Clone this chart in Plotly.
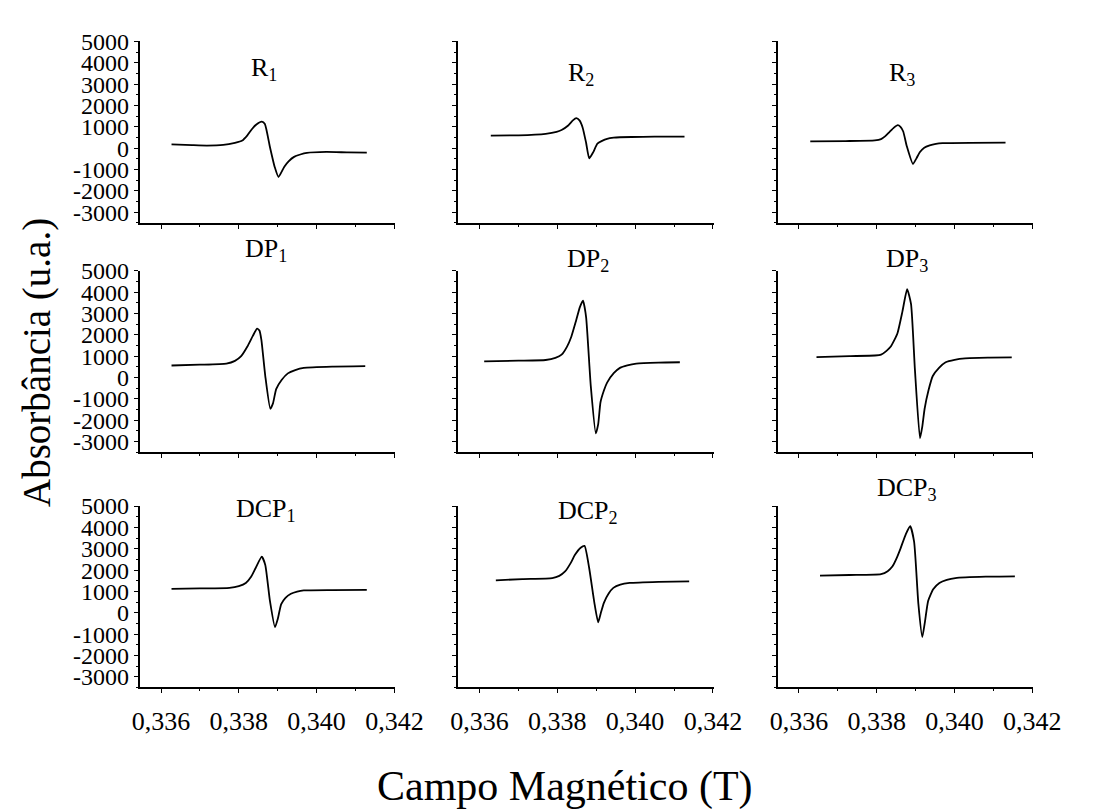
import plotly.graph_objects as go

FONT = "Times New Roman, Liberation Serif, Tinos, serif"

# ---- data (field in T, absorbance in a.u.) ----
field_R1 = [0.33627, 0.33680, 0.33718, 0.33760, 0.33790, 0.33809, 0.33822, 0.33834, 0.33846,
            0.33859, 0.33867, 0.33880, 0.33892, 0.33902, 0.33917, 0.33928, 0.33942, 0.33958,
            0.33975, 0.34025, 0.34080, 0.34129]
abs_R1 = [175, 140, 120, 150, 250, 358, 600, 896, 1120,
          1245, 1126, 50, -870, -1356, -870, -620, -410, -300,
          -225, -180, -200, -210]

field_R2 = [0.33629, 0.33700, 0.33770, 0.33798, 0.33811, 0.33828, 0.33840, 0.33849,
            0.33857, 0.33865, 0.33874, 0.33882, 0.33892, 0.33903, 0.33915, 0.33928,
            0.33945, 0.33961, 0.34020, 0.34080, 0.34127]
abs_R2 = [588, 600, 670, 760, 850, 1060, 1300, 1402,
          1300, 970, 250, -483, -200, 207, 340, 437,
          490, 510, 530, 540, 542]

field_R3 = [0.33629, 0.33720, 0.33795, 0.33811, 0.33822, 0.33832, 0.33844, 0.33854,
            0.33861, 0.33868, 0.33877, 0.33893, 0.33902, 0.33911, 0.33922, 0.33936,
            0.33952, 0.33969, 0.34040, 0.34131]
abs_R3 = [312, 330, 360, 420, 560, 740, 960, 1080,
          1000, 780, 100, -744, -480, -179, 20, 129,
          200, 234, 250, 253]

field_DP1 = [0.33627, 0.33700, 0.33768, 0.33790, 0.33806, 0.33822, 0.33836, 0.33847,
             0.33853, 0.33858, 0.33868, 0.33881, 0.33888, 0.33896, 0.33910, 0.33926,
             0.33945, 0.33967, 0.34040, 0.34125]
abs_DP1 = [562, 600, 654, 780, 1000, 1452, 1950, 2295,
           2200, 1760, 70, -1465, -1200, -544, -120, 194,
           350, 452, 510, 530]

field_DP2 = [0.33612, 0.33700, 0.33770, 0.33795, 0.33811, 0.33825, 0.33836, 0.33848,
             0.33858, 0.33866, 0.33874, 0.33886, 0.33899, 0.33905, 0.33911, 0.33920,
             0.33928, 0.33945, 0.33961, 0.33980, 0.34003, 0.34060, 0.34115]
abs_DP2 = [760, 790, 820, 920, 1069, 1450, 1912, 2650,
           3300, 3604, 2834, -392, -2618, -2200, -1161, -600,
           -240, 200, 452, 570, 654, 700, 714]

field_DP3 = [0.33645, 0.33730, 0.33795, 0.33811, 0.33825, 0.33836, 0.33853, 0.33866,
             0.33878, 0.33888, 0.33898, 0.33911, 0.33917, 0.33923, 0.33933, 0.33944,
             0.33960, 0.33977, 0.34000, 0.34027, 0.34090, 0.34147]
abs_DP3 = [959, 1000, 1030, 1069, 1250, 1452, 2065, 3100,
           4138, 3447, 378, -2848, -2300, -1465, -600, 70,
           450, 714, 830, 899, 930, 945]

field_DCP1 = [0.33627, 0.33700, 0.33776, 0.33800, 0.33818, 0.33832, 0.33843, 0.33859,
              0.33868, 0.33880, 0.33893, 0.33900, 0.33909, 0.33920, 0.33934, 0.33950,
              0.33967, 0.34040, 0.34129]
abs_DCP1 = [1120, 1140, 1166, 1250, 1396, 1700, 2088, 2627,
            2244, 553, -677, -300, 401, 700, 889, 990,
            1046, 1065, 1074]

field_DCP2 = [0.33642, 0.33710, 0.33787, 0.33805, 0.33820, 0.33835, 0.33845, 0.33860,
              0.33870, 0.33882, 0.33895, 0.33905, 0.33912, 0.33920, 0.33932, 0.33944,
              0.33962, 0.33986, 0.34060, 0.34139]
abs_DCP2 = [1521, 1580, 1627, 1730, 1935, 2350, 2705, 3050,
            3134, 2088, 500, -447, 0, 475, 900, 1166,
            1320, 1396, 1450, 1475]

field_DCP3 = [0.33654, 0.33730, 0.33811, 0.33828, 0.33840, 0.33852, 0.33861, 0.33875,
              0.33886, 0.33896, 0.33907, 0.33917, 0.33924, 0.33932, 0.33945, 0.33961,
              0.33980, 0.34002, 0.34080, 0.34155]
abs_DCP3 = [1737, 1770, 1811, 1950, 2166, 2600, 3009, 3700,
            4055, 3318, 401, -1138, -400, 553, 1100, 1396,
            1540, 1627, 1690, 1705]

panel_names = ["R<sub>1</sub>", "R<sub>2</sub>", "R<sub>3</sub>",
               "DP<sub>1</sub>", "DP<sub>2</sub>", "DP<sub>3</sub>",
               "DCP<sub>1</sub>", "DCP<sub>2</sub>", "DCP<sub>3</sub>"]
fields = [field_R1, field_R2, field_R3, field_DP1, field_DP2, field_DP3,
          field_DCP1, field_DCP2, field_DCP3]
absorb = [abs_R1, abs_R2, abs_R3, abs_DP1, abs_DP2, abs_DP3,
          abs_DCP1, abs_DCP2, abs_DCP3]

x_tickvals = [0.336, 0.338, 0.340, 0.342]
x_ticktext = ["0,336", "0,338", "0,340", "0,342"]
y_tickvals = [5000, 4000, 3000, 2000, 1000, 0, -1000, -2000, -3000]

# ---- layout geometry (pixels) ----
W, H = 1096, 812
col_px = [(137, 401), (466, 730), (796, 1060)]
row_px = [(29, 214), (263, 448), (503, 688)]
title_pos = [(265, 57), (593, 62), (925, 62),
             (268, 242), (600, 252), (930, 252),
             (268, 507), (600, 509), (930, 486)]

fig = go.Figure()
layout = dict(
    width=W, height=H, margin=dict(l=0, r=0, t=0, b=0),
    paper_bgcolor="white", plot_bgcolor="white", showlegend=False,
    font=dict(family=FONT, color="black"),
)
annotations = []

for i in range(9):
    r, c = divmod(i, 3)
    k = "" if i == 0 else str(i + 1)
    fig.add_trace(go.Scatter(
        x=fields[i], y=absorb[i], mode="lines",
        line=dict(color="black", width=1.8, shape="spline", smoothing=0.5),
        xaxis="x" + k, yaxis="y" + k, hoverinfo="skip"))
    x0, x1 = col_px[c]
    y0, y1 = row_px[r]
    layout["xaxis" + k] = dict(
        domain=[x0 / W, x1 / W], anchor="y" + k,
        range=[0.33545, 0.34202],
        showline=True, linecolor="black", linewidth=1.5,
        showgrid=False, zeroline=False,
        ticks="outside", ticklen=4, tickwidth=1, tickcolor="black",
        tickvals=x_tickvals, ticktext=x_ticktext,
        showticklabels=(r == 2), ticklabelstandoff=6,
        tickfont=dict(family=FONT, size=26, color="black"),
        minor=dict(tickvals=[0.337, 0.339, 0.341], ticks="outside",
                   ticklen=2, tickwidth=1, tickcolor="black"),
    )
    layout["yaxis" + k] = dict(
        domain=[1 - y1 / H, 1 - y0 / H], anchor="x" + k,
        range=[-3500, 5000],
        showline=True, linecolor="black", linewidth=1.5,
        showgrid=False, zeroline=False,
        ticks="outside", ticklen=4, tickwidth=1, tickcolor="black",
        tickvals=y_tickvals, ticktext=[str(v) for v in y_tickvals],
        showticklabels=(c == 0), ticklabelstandoff=0,
        tickfont=dict(family=FONT, size=24, color="black"),
        minor=dict(dtick=500, tick0=-3500, ticks="outside",
                   ticklen=2, tickwidth=1, tickcolor="black"),
    )
    tx, ty = title_pos[i]
    annotations.append(dict(
        text=panel_names[i], x=tx / W, y=1 - ty / H, xref="paper", yref="paper",
        showarrow=False, xanchor="center", yanchor="middle",
        font=dict(family=FONT, size=26, color="black")))

annotations.append(dict(
    text="Absorbância (u.a.)", x=31 / W, y=1 - 357 / H, xref="paper", yref="paper",
    showarrow=False, textangle=-90, xanchor="center", yanchor="middle",
    font=dict(family=FONT, size=39, color="black")))
annotations.append(dict(
    text="Campo Magnético (T)", x=576 / W, y=1 - 789 / H, xref="paper", yref="paper",
    showarrow=False, xanchor="center", yanchor="middle",
    font=dict(family=FONT, size=42, color="black")))

layout["annotations"] = annotations
fig.update_layout(**layout)
fig.write_html("out.html")
